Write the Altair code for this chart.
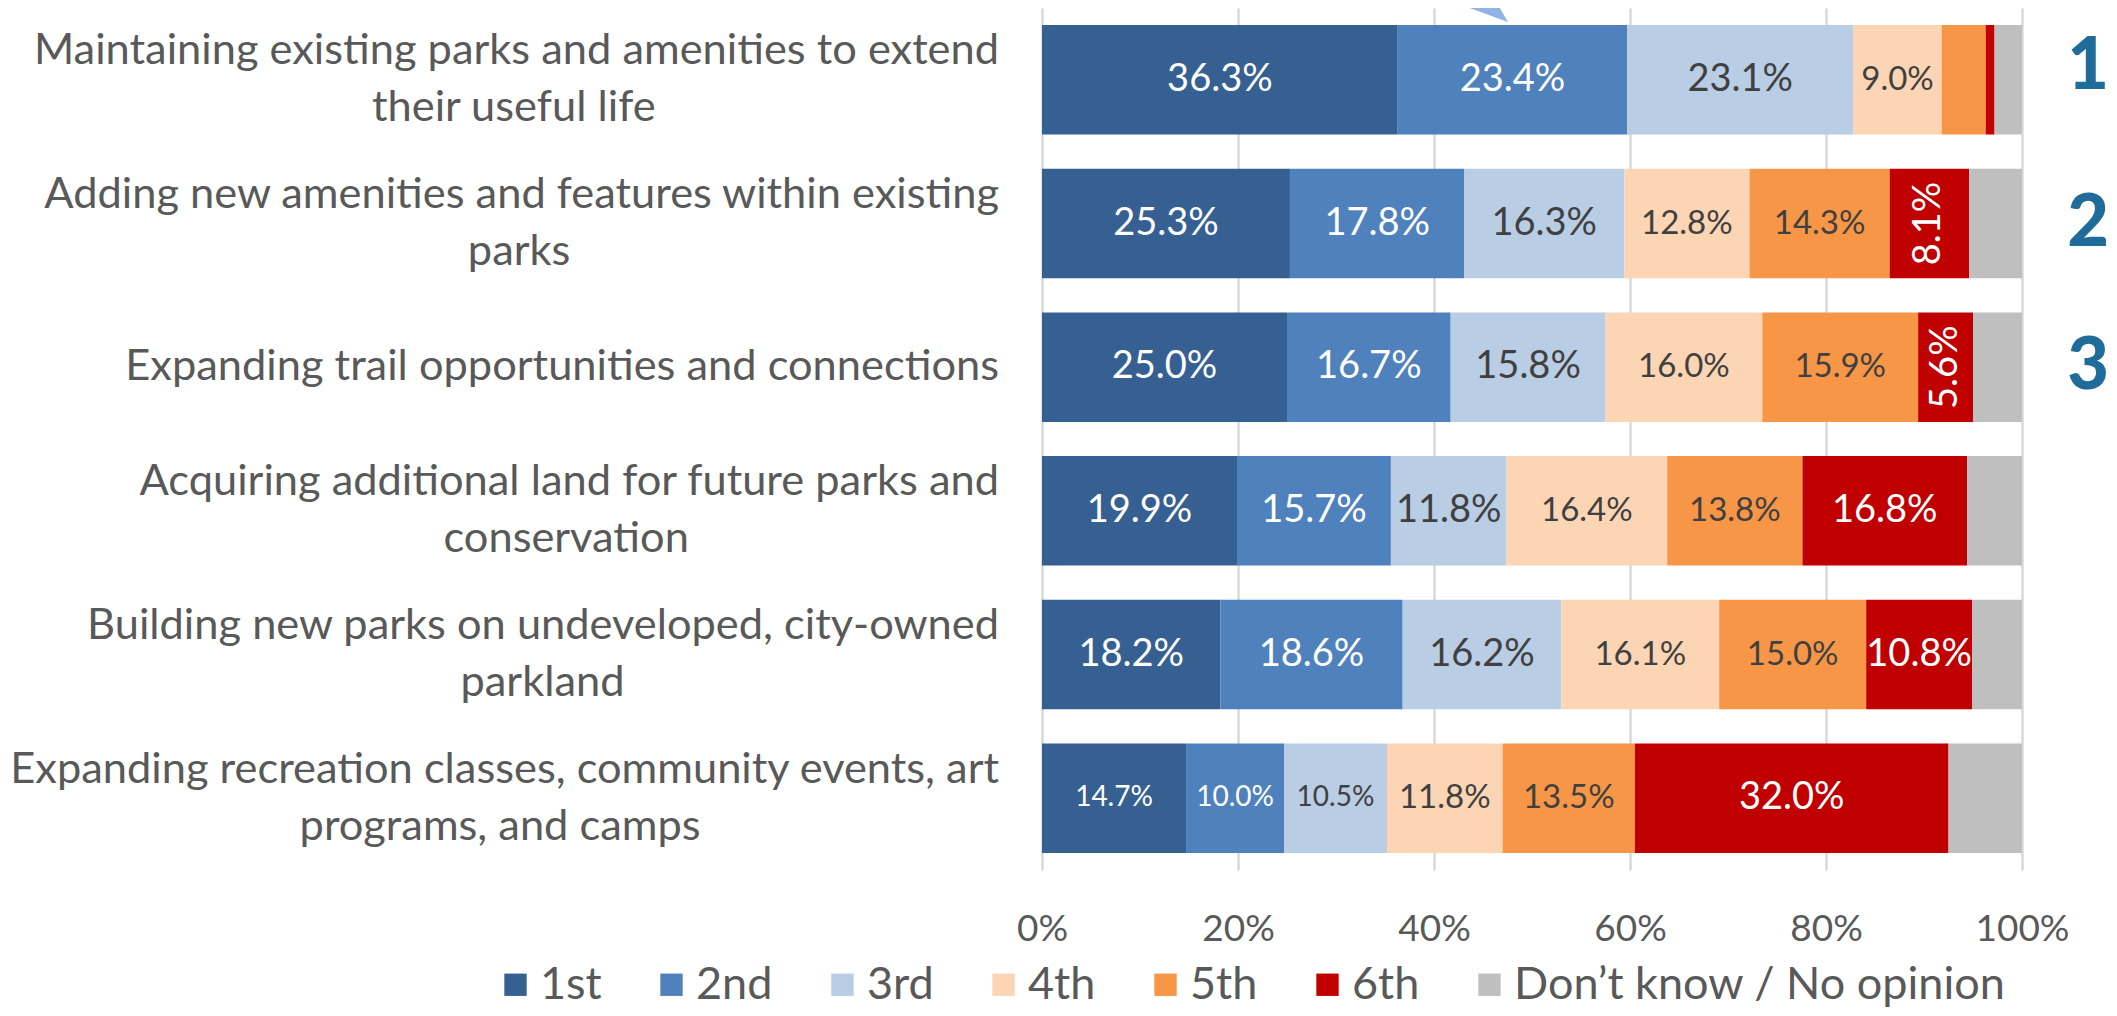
import altair as alt
import pandas as pd

# ---------------- data ----------------
CATEGORY_LINES = [
    ["Maintaining existing parks and amenities to extend", "their useful life"],
    ["Adding new amenities and features within existing", "parks"],
    ["Expanding trail opportunities and connections"],
    ["Acquiring additional land for future parks and", "conservation"],
    ["Building new parks on undeveloped, city-owned", "parkland"],
    ["Expanding recreation classes, community events, art", "programs, and camps"],
]
RANKS = ["1st", "2nd", "3rd", "4th", "5th", "6th", "Don\u2019t know / No opinion"]
FIRST = [36.3, 25.3, 25.0, 19.9, 18.2, 14.7]
SECOND = [23.4, 17.8, 16.7, 15.7, 18.6, 10.0]
THIRD = [23.1, 16.3, 15.8, 11.8, 16.2, 10.5]
FOURTH = [9.0, 12.8, 16.0, 16.4, 16.1, 11.8]
FIFTH = [4.5, 14.3, 15.9, 13.8, 15.0, 13.5]
SIXTH = [0.9, 8.1, 5.6, 16.8, 10.8, 32.0]
DONT_KNOW = [2.8, 5.4, 5.0, 5.6, 5.1, 7.5]
TOP_PRIORITY = ["1", "2", "3"]
X_TICKS = [0, 0.2, 0.4, 0.6, 0.8, 1.0]

# ---------------- styles ----------------
COLORS = ["#366092", "#4F81BD", "#B9CDE5", "#FCD5B5", "#F79646", "#C00000", "#BFBFBF"]
LIGHT_TEXT_RANKS = ["1st", "2nd", "6th"]
FONT = "Lato"
TEXT_GREY = "#595959"
LABEL_SIZE_BY_RANK = {"1st": 38, "2nd": 38, "3rd": 38, "4th": 33, "5th": 33, "6th": 38}
SMALL_LABEL_CELLS = {(5, 0), (5, 1), (5, 2)}
SMALL_LABEL_SIZE = 28
YLABEL_SIZE = 43.4
YLABEL_GAP = 43          # px between category text and the plot
LINE_GAP = 28.5          # half the line spacing of two-line category labels
REF_EM = 46.8            # em size (px) used to estimate line widths for centring
W, H = 980, 862

# approximate advance widths (em) of a humanist sans, used to centre the 2nd line
CHAR_EM = {
    "a": .479, "b": .525, "c": .423, "d": .525, "e": .498, "f": .305, "g": .471, "h": .525,
    "i": .229, "j": .239, "k": .455, "l": .229, "m": .799, "n": .525, "o": .527, "p": .525,
    "q": .525, "r": .349, "s": .391, "t": .335, "u": .525, "v": .452, "w": .715, "x": .433,
    "y": .453, "z": .395, " ": .226, ",": .250, "-": .306, ".": .252,
    "A": .579, "B": .544, "E": .488, "M": .855,
}


def est_width(s):
    return sum(CHAR_EM.get(ch, .5) for ch in s) * REF_EM


SERIES = [FIRST, SECOND, THIRD, FOURTH, FIFTH, SIXTH, DONT_KNOW]
CATS = [" ".join(lines) for lines in CATEGORY_LINES]

seg_rows = []
for i, cat in enumerate(CATS):
    cum = 0.0
    for r, rank in enumerate(RANKS):
        v = SERIES[r][i]
        size = LABEL_SIZE_BY_RANK.get(rank, 38)
        if (i, r) in SMALL_LABEL_CELLS:
            size = SMALL_LABEL_SIZE
        seg_rows.append(dict(
            category=cat, rank=rank, value=v,
            start=cum / 100, end=(cum + v) / 100, mid=(cum + v / 2) / 100,
            label=f"{v:.1f}%", fs=size,
            show=(v >= 5 and rank != RANKS[-1]),
            rotated=(v < 8.5),
            light=(rank in LIGHT_TEXT_RANKS),
        ))
        cum += v
seg = pd.DataFrame(seg_rows)

lab_rows = []
for cat, lines in zip(CATS, CATEGORY_LINES):
    l1 = lines[0]
    l2 = lines[1] if len(lines) > 1 else ""
    center2 = (-YLABEL_GAP - est_width(l1) / 2) / W
    lab_rows.append(dict(category=cat, line1=l1, line2=l2, two=len(lines) > 1, c2=center2))
labs = pd.DataFrame(lab_rows)

nums = pd.DataFrame({"category": CATS[:len(TOP_PRIORITY)], "num": TOP_PRIORITY})

y_enc = alt.Y("category:N", scale=alt.Scale(domain=CATS, paddingInner=0.238, paddingOuter=0.119), axis=None)
x_scale = alt.Scale(domain=[0, 1], nice=False, zero=False)

bars = alt.Chart(seg).mark_bar().encode(
    x=alt.X("start:Q", scale=x_scale, title=None,
            axis=alt.Axis(values=X_TICKS, format=".0%", domain=False, ticks=False, tickSize=0,
                          grid=True, gridColor="#D9D9D9", gridWidth=2.5, labelFlush=False,
                          labelFont=FONT, labelFontSize=37, labelColor=TEXT_GREY,
                          labelBaseline="middle", labelPadding=59)),
    x2="end:Q",
    y=y_enc,
    color=alt.Color("rank:N", scale=alt.Scale(domain=RANKS, range=COLORS),
                    legend=alt.Legend(title=None, orient="none", direction="horizontal",
                                      legendX=-549, legendY=954,
                                      symbolType="square", symbolSize=500, symbolStrokeWidth=0,
                                      labelFont=FONT, labelFontSize=45, labelColor=TEXT_GREY,
                                      labelOffset=2, columnPadding=47, labelLimit=1000)),
)

base_txt = alt.Chart(seg)
text_light = base_txt.mark_text(font=FONT, align="center", baseline="middle", color="white").encode(
    x=alt.X("mid:Q", scale=x_scale), y=y_enc, text="label:N",
    size=alt.Size("fs:Q", scale=None, legend=None),
).transform_filter("datum.show && datum.light && !datum.rotated")

text_dark = base_txt.mark_text(font=FONT, align="center", baseline="middle", color="#404040").encode(
    x=alt.X("mid:Q", scale=x_scale), y=y_enc, text="label:N",
    size=alt.Size("fs:Q", scale=None, legend=None),
).transform_filter("datum.show && !datum.light && !datum.rotated")

text_rot = base_txt.mark_text(font=FONT, align="center", baseline="middle", color="white", angle=270).encode(
    x=alt.X("mid:Q", scale=x_scale), y=y_enc, text="label:N",
    size=alt.Size("fs:Q", scale=None, legend=None),
).transform_filter("datum.show && datum.rotated")

ylab_base = alt.Chart(labs)
ylab1 = ylab_base.mark_text(font=FONT, fontSize=YLABEL_SIZE, color=TEXT_GREY, align="right",
                            baseline="middle", dy=-LINE_GAP).encode(
    x=alt.value(-YLABEL_GAP), y=y_enc, text="line1:N").transform_filter("datum.two")
ylab2 = ylab_base.mark_text(font=FONT, fontSize=YLABEL_SIZE, color=TEXT_GREY, align="center",
                            baseline="middle", dy=LINE_GAP).encode(
    x=alt.X("c2:Q", scale=x_scale), y=y_enc, text="line2:N").transform_filter("datum.two")
ylab_single = ylab_base.mark_text(font=FONT, fontSize=YLABEL_SIZE, color=TEXT_GREY, align="right",
                                  baseline="middle").encode(
    x=alt.value(-YLABEL_GAP), y=y_enc, text="line1:N").transform_filter("!datum.two")

num_base = alt.Chart(nums)
num_first = num_base.mark_text(font=FONT, fontSize=72, fontWeight=900, color="#1F6B99",
                               align="center", baseline="middle", dx=66, dy=-13).encode(
    x=alt.value("width"), y=y_enc, text="num:N").transform_filter("datum.num == '1'")
num_rest = num_base.mark_text(font=FONT, fontSize=72, fontWeight=900, color="#1F6B99",
                              align="center", baseline="middle", dx=66).encode(
    x=alt.value("width"), y=y_enc, text="num:N").transform_filter("datum.num != '1'")

arrow = alt.Chart(pd.DataFrame({"pos": [0.456]})).mark_point(
    shape="M -0.95 -0.35 L 0.55 -0.35 L 0.95 0.35 Z", size=1600, filled=True, opacity=1,
    color="#8DB4E2", strokeWidth=0).encode(
    x=alt.X("pos:Q", scale=x_scale), y=alt.value(7))

chart = alt.layer(bars, text_light, text_dark, text_rot, ylab1, ylab2, ylab_single,
                  num_first, num_rest, arrow).properties(
    width=W, height=H,
    autosize=alt.AutoSizeParams(type="none"),
    padding={"left": 1034, "top": 0, "right": 87, "bottom": 138},
).configure_view(stroke=None)

chart.save("out.html", embed_options={"renderer": "svg", "actions": False})
